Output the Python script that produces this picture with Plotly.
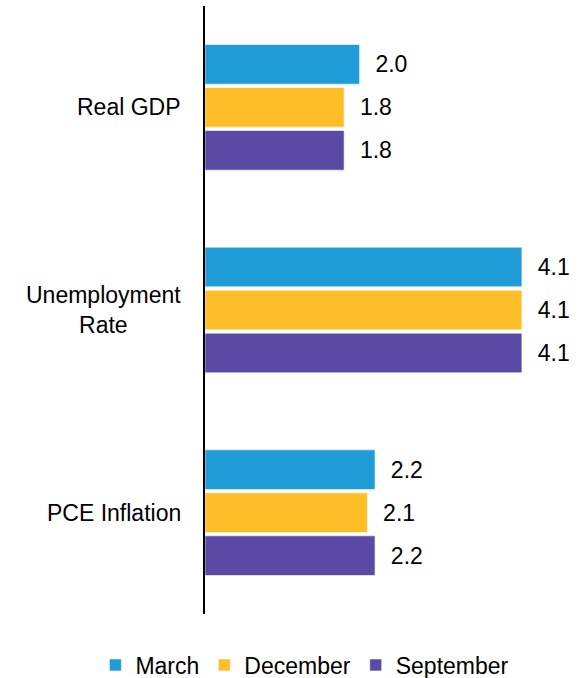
import plotly.graph_objects as go

categories = ["Real GDP", "Unemployment Rate", "PCE Inflation"]
category_labels = ["Real GDP", "Unemployment<br>Rate", "PCE Inflation"]
series_names = ["March", "December", "September"]
march = [2.0, 4.1, 2.2]
december = [1.8, 4.1, 2.1]
september = [1.8, 4.1, 2.2]
colors = ["#1f9bd7", "#fdbe28", "#5a4aa5"]

FONT = "Liberation Sans, Arial, sans-serif"
FS = 23
fig = go.Figure()
for name, vals, col in zip(series_names, [march, december, september], colors):
    fig.add_trace(go.Bar(
        y=categories, x=vals, name=name, orientation="h",
        marker=dict(color=col, line=dict(color="rgba(255,255,255,0.6)", width=1)),
        text=["\u00a0\u00a0" + f"{v:.1f}" for v in vals],
        textposition="outside", cliponaxis=False, constraintext="none",
        textfont=dict(size=FS, color="#000000", family=FONT),
    ))

for cat, lab in zip(categories, category_labels):
    fig.add_annotation(x=0, xref="paper", y=cat, yref="y", text=lab,
                       xanchor="right", xshift=-22, align="center", showarrow=False,
                       font=dict(size=FS, color="#000000", family=FONT))

fig.update_layout(
    width=583, height=678,
    margin=dict(l=205, r=0, t=6, b=64, autoexpand=False),
    paper_bgcolor="white", plot_bgcolor="white",
    barmode="group", bargap=0.3635, bargroupgap=0.077,
    font=dict(family=FONT, size=FS, color="#000000"),
    showlegend=True,
    legend=dict(orientation="h", x=-0.29, xanchor="left",
                y=-0.0839, yanchor="middle",
                font=dict(size=FS, family=FONT, color="#000000"),
                itemwidth=30, traceorder="normal", bgcolor="rgba(0,0,0,0)"),
)
fig.update_xaxes(range=[0, 4.89], showgrid=False, zeroline=False, showticklabels=False,
                 showline=False, fixedrange=True)
fig.update_yaxes(autorange="reversed", showticklabels=False, showgrid=False,
                 showline=True, linecolor="#000000", linewidth=2, ticks="", fixedrange=True)
fig.write_html("out.html")
